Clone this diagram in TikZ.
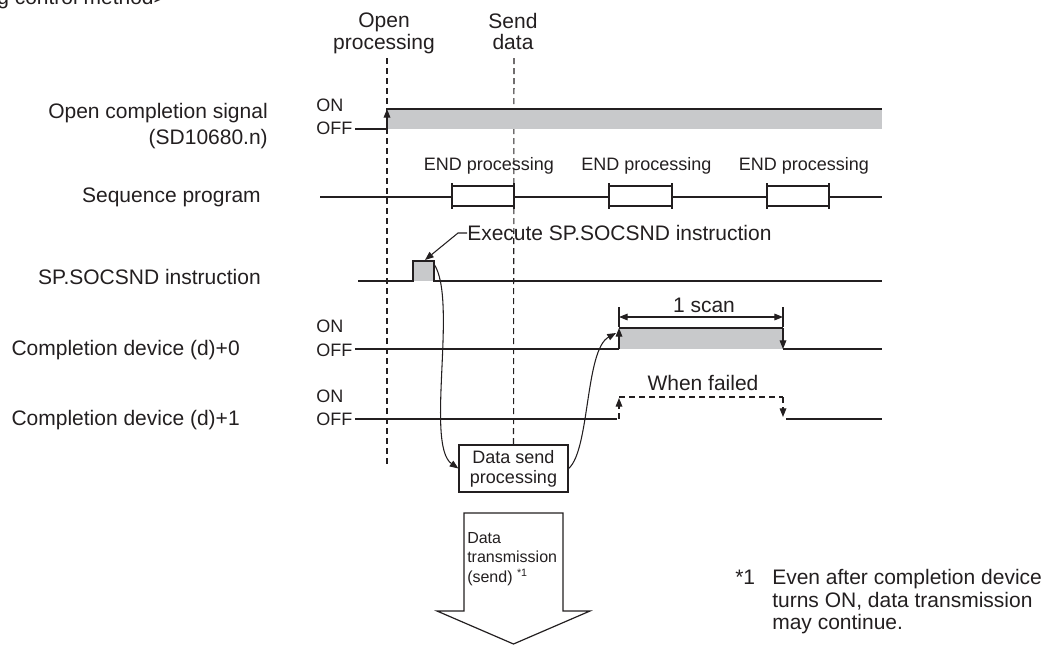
\documentclass[tikz,border=0pt]{standalone}
\usepackage{fontspec}
\setmainfont{Liberation Sans}
\usetikzlibrary{arrows.meta}
\definecolor{ink}{HTML}{231F20}
\definecolor{pulsegray}{HTML}{C8C9CB}
\tikzset{
	lbl/.style={font=\fontsize{15.75}{18}\selectfont, text=ink, inner sep=0pt},
	small/.style={font=\fontsize{13.5}{15}\selectfont, text=ink, inner sep=0pt},
	wave/.style={draw=ink, line width=0.9pt},
	guide/.style={draw=ink, line width=0.8pt, dash pattern=on 4.5pt off 3pt},
	arr/.style={-{Triangle[length=6.5pt,width=5pt]}},
	dimarr/.style={{Triangle[length=6.5pt,width=5pt]}-{Triangle[length=6.5pt,width=5pt]}},
}
\begin{document}
\begin{tikzpicture}[x=0.75pt, y=-0.75pt]
		\pgfmathsetmacro{\xo}{387}
		\pgfmathsetmacro{\xs}{514}
		\pgfmathsetmacro{\xr}{882}
		\useasboundingbox (0,0) rectangle (1049,646);
		\node[lbl, anchor=base west] (title) at (-3,4) {g control method>};

		\node[lbl, align=center, anchor=north, font=\fontsize{15.75}{16}\selectfont] (openlbl) at (384,13) {Open\\processing};
		\node[lbl, align=center, anchor=north, font=\fontsize{15.75}{16}\selectfont] (sendlbl) at (513,13) {Send\\data};

		\node[lbl, align=right, anchor=east, font=\fontsize{15.75}{20}\selectfont] (ocs) at (268,126) {Open completion signal\\(SD10680.n)};
		\node[lbl, anchor=east] (seq) at (261,197) {Sequence program};
		\node[lbl, anchor=east] (socsnd) at (261,277) {SP.SOCSND instruction};
		\node[lbl, anchor=east] (dev0) at (240,350) {Completion device (d)+0};
		\node[lbl, anchor=east] (dev1) at (240,420) {Completion device (d)+1};

		\node[small, anchor=west] (on1) at (316,105) {ON};
		\node[small, anchor=west] (off1) at (316,128) {OFF};
		\node[small, anchor=west] (on4) at (316,326) {ON};
		\node[small, anchor=west] (off4) at (316,350) {OFF};
		\node[small, anchor=west] (on5) at (316,396) {ON};
		\node[small, anchor=west] (off5) at (316,419) {OFF};

		\node[small, draw=ink, line width=0.9pt, fill=white, align=center, minimum width=81.75pt, minimum height=35.25pt, inner sep=1pt] (dsp) at (513.5,468.5) {Data send\\processing};

		\coordinate (otop) at (\xo,58);
		\coordinate (obot) at (\xo,466);
		\coordinate (stop) at (\xs,58);
		\draw[guide] (otop) -- (obot);
		\draw[guide] (stop) -- (dsp.north);

		\fill[pulsegray] (\xo,109) rectangle (\xr,129);
		\draw[wave] (355,129) -- (\xo,129);
		\draw[wave, arr] (\xo,129) -- (\xo,109);
		\draw[wave] (\xo,109) -- (\xr,109);

		\draw[wave] (320,197) -- (\xr,197);
		\foreach \a/\b [count=\i] in {452/514, 609/672, 767/829} {
			\draw[wave, fill=white] (\a,186) rectangle (\b,206);
			\draw[wave] (\a,183) -- (\a,209) (\b,183) -- (\b,209);
			\node[small] (end\i) at ({(\a+\b)/2+6},166) {END processing};
		}

		\fill[pulsegray] (413,261) rectangle (434,281);
		\draw[wave] (358,281) -- (413,281) -- (413,261) -- (434,261) -- (434,281) -- (\xr,281);
		\coordinate (pulse) at (425,260);
		\coordinate (pulseout) at (434,264);
		\node[lbl, anchor=west] (exec) at (467,233) {Execute SP.SOCSND instruction};
		\draw[wave, line width=0.8pt, arr] (exec.west) -- ++(-9,0) -- (pulse);

		\fill[pulsegray] (619,328) rectangle (783,349);
		\draw[wave] (355,349) -- (619,349);
		\draw[wave, arr] (619,349) -- (619,328);
		\draw[wave] (619,328) -- (783,328);
		\draw[wave, arr] (783,328) -- (783,349);
		\draw[wave] (783,349) -- (\xr,349);
		\coordinate (rise) at (616,333);
		\draw[wave, line width=0.8pt] (619,307) -- (619,327) (783,307) -- (783,327);
		\draw[wave, line width=0.8pt, dimarr] (619,317) -- (783,317);
		\node[lbl] (scan) at (704,305) {1 scan};

		\node[lbl] (fail) at (703,383) {When failed};
		\draw[wave] (355,419) -- (617,419);
		\draw[wave, dash pattern=on 4.5pt off 3pt, arr] (619,419) -- (619,398);
		\draw[wave, dash pattern=on 4.5pt off 3pt] (619,397) -- (783,397);
		\draw[wave, dash pattern=on 4.5pt off 3pt, arr] (783,397) -- (783,417);
		\draw[wave] (786,419) -- (\xr,419);

		\draw[wave, line width=0.8pt, arr] (pulseout) .. controls (458,300) and (425,445) .. (dsp.west);
		\draw[wave, line width=0.8pt, arr] (dsp.east) .. controls (590,450) and (585,350) .. (rise);

		\draw[wave, fill=white] (464,513) -- (563,513) -- (563,611) -- (590,611) -- (513.5,644) -- (437,611) -- (464,611) -- cycle;
		\node[font=\fontsize{12}{14.6}\selectfont, text=ink, inner sep=0pt, align=left, anchor=north west] (dtx) at (467,532) {Data\\transmission\\(send) \textsuperscript{*1}};

		\node[lbl, anchor=west] (fnmark) at (735,577) {*1};
		\node[lbl, anchor=north west, align=left, font=\fontsize{15.75}{16.9}\selectfont] (fntext) at (772,569) {Even after completion device\\turns ON, data transmission\\may continue.};
	\end{tikzpicture}
\end{document}
